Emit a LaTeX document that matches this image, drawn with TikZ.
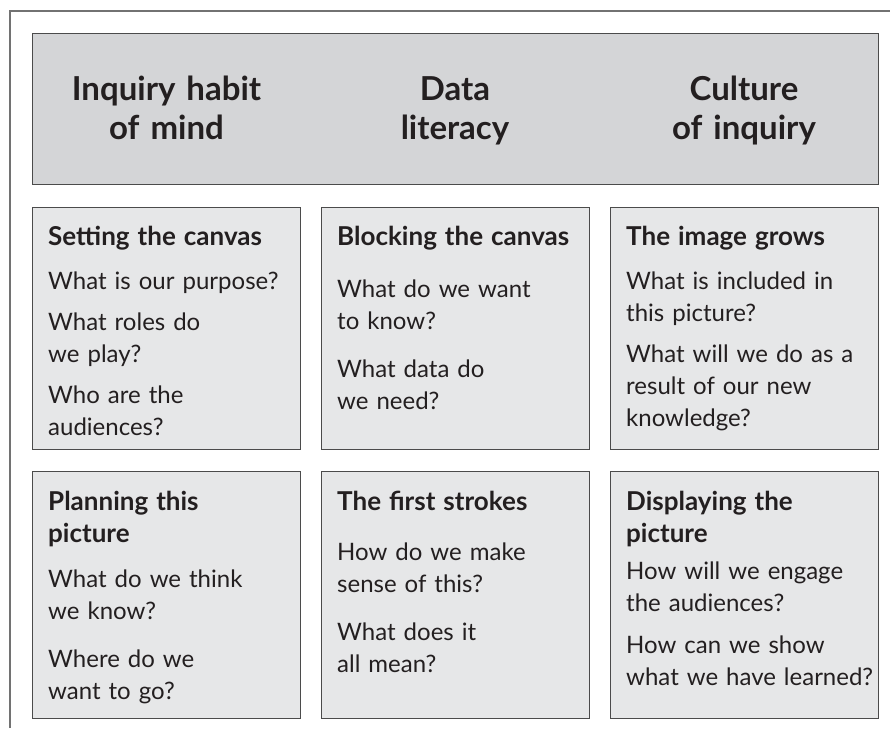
\documentclass[tikz,border=0pt]{standalone}
\usepackage{fontspec}
\setmainfont{Lato}
\usetikzlibrary{positioning}
\definecolor{hdx}{HTML}{D4D5D7}
\definecolor{bxx}{HTML}{E6E7E8}
\definecolor{lnx}{HTML}{4B4B4B}
\definecolor{frx}{HTML}{727272}
\definecolor{txx}{HTML}{231F20}
\newcommand\boxhead[1]{{\fontsize{26}{32}\selectfont\bfseries #1}}
\tikzset{
    panel/.style={draw=lnx,line width=1.3pt,fill=bxx,inner sep=0pt,anchor=north west,minimum width=268pt},
    headpanel/.style={panel,fill=hdx,minimum width=846pt,minimum height=151pt},
    headtext/.style={text=txx,inner sep=0pt,anchor=base,align=center,text width=260pt,
        font=\fontsize{33}{39}\selectfont\bfseries},
    bodytext/.style={text=txx,inner sep=0pt,anchor=base west,align=left,text width=250pt,
        font=\fontsize{24}{32}\selectfont}
}

\begin{document}
\begin{tikzpicture}[x=1pt,y=-1pt]
    \useasboundingbox (0,0) rectangle (890,728);
    % frame, only top and left edges show
    \draw [frx,line width=1.4pt] (10,728) -- (10,11) -- (890,11);
    % header band
    \node [headpanel] (head) at (32,33) {};
    \foreach \x/\n/\t in {166.5/habit/{Inquiry habit\\of mind},
                          455/literacy/{Data\\literacy},
                          744/culture/{Culture\\of inquiry}} {
        \node [headtext] (\n) at (\x,100) {\t};
    }
    % panels
    \foreach \x/\c in {32/1,321/2,610/3} {
        \node [panel,minimum height=242pt] (p1\c) at (\x,207) {};
        \node [panel,minimum height=247pt] (p2\c) at (\x,471) {};
    }
    % panel texts
    \node [bodytext] (t11) at (48,245) {\boxhead{Setting the canvas}\\[12pt]
        What is our purpose?\\[9pt]
        What roles do\\we play?\\[9pt]
        Who are the\\audiences?};
    \node [bodytext] (t12) at (337,245) {\boxhead{Blocking the canvas}\\[20pt]
        What do we want\\to know?\\[16pt]
        What data do\\we need?};
    \node [bodytext] (t13) at (626,245) {\boxhead{The image grows}\\[12pt]
        What is included in\\this picture?\\[9pt]
        What will we do as a\\result of our new\\knowledge?};
    \node [bodytext] (t21) at (48,510) {\boxhead{Planning this}\\\boxhead{picture}\\[13pt]
        What do we think\\we know?\\[16pt]
        Where do we\\want to go?};
    \node [bodytext] (t22) at (337,510) {\boxhead{The first strokes}\\[18pt]
        How do we make\\sense of this?\\[16pt]
        What does it\\all mean?};
    \node [bodytext] (t23) at (626,510) {\boxhead{Displaying the}\\\boxhead{picture}\\[5pt]
        How will we engage\\the audiences?\\[10pt]
        How can we show\\what we have learned?};
\end{tikzpicture}
\end{document}
